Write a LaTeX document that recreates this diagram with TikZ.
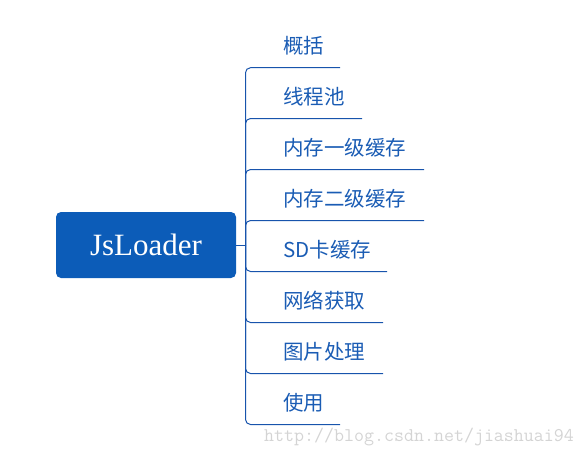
\documentclass[tikz,border=0pt]{standalone}
\usepackage{fontspec}
\setmainfont{Liberation Serif}
\newfontfamily\cjk{Noto Sans CJK SC}
\definecolor{boxblue}{RGB}{12,92,184}
\definecolor{lineblue}{RGB}{24,84,172}
\definecolor{textblue}{RGB}{26,92,180}
\definecolor{wmgray}{RGB}{212,212,212}
\begin{document}
\begin{tikzpicture}[x=1pt,y=-1pt,
  rootbox/.style={fill=boxblue, rounded corners=5pt, minimum width=180pt, minimum height=66pt, inner sep=0pt, text=white, font=\fontsize{31}{36}\selectfont},
  item/.style={anchor=base west, inner sep=0pt, text=textblue, font=\cjk\fontsize{20.5}{24}\selectfont},
  branch/.style={draw=lineblue, line width=1pt, rounded corners=5pt},
  stem/.style={draw=lineblue, line width=1pt},
  wm/.style={anchor=base west, inner sep=0pt, text=wmgray, font=\ttfamily\fontsize{19.4}{22}\selectfont}]
\useasboundingbox (0,0) rectangle (587,455);
\node[rootbox] (root) at (146,245) {JsLoader};
\coordinate (j) at (245.5,245);
\draw[stem] (root.east) -- (j);
% items: underline y, end x
\foreach \n/\y/\ex/\t in {1/67.7/340/概括, 2/118.5/362/线程池, 3/169.5/424/内存一级缓存, 4/220.5/424/内存二级缓存, 5/271.5/387/SD卡缓存, 6/322.5/383/网络获取, 7/373.5/383/图片处理, 8/424.5/340/使用}{
  \node[item] (t\n) at (283,\y-14.5) {\t};
  \coordinate (e\n) at (\ex,\y);
  \draw[branch] (j) |- (e\n);
}
\node[wm] (wm) at (264,441) {http://blog.csdn.net/jiashuai94};
\end{tikzpicture}
\end{document}
